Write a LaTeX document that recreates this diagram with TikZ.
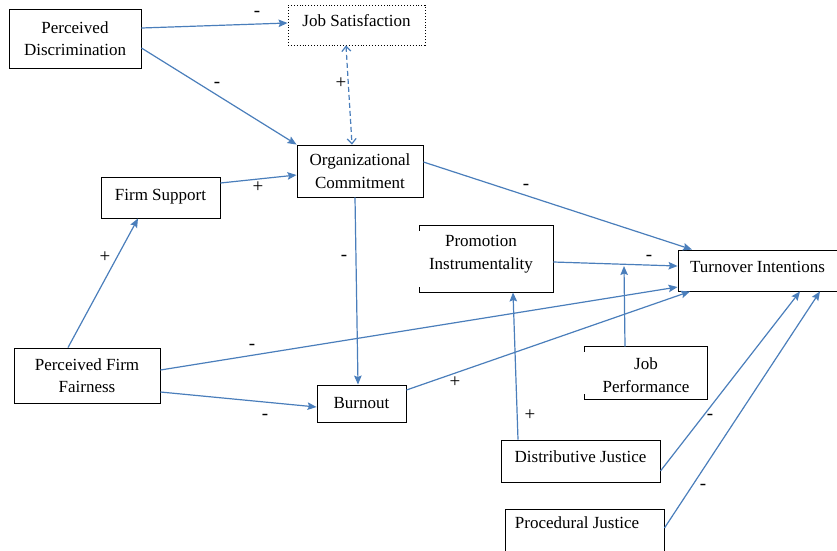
\documentclass[tikz,border=0pt]{standalone}
\usepackage{fontspec}
\setmainfont{Liberation Serif}
\usetikzlibrary{arrows.meta,calc}
\definecolor{arr}{HTML}{4A7EBB}
\begin{document}
\begin{tikzpicture}[x=1pt,y=-1pt,
 box/.style={draw=black, line width=0.9pt, rectangle, inner sep=0pt, align=center, font=\fontsize{17}{22.5}\selectfont},
 open/.style={box, draw=none},
 conn/.style={draw=arr, line width=1.2pt, -{Stealth[length=9pt,width=7.5pt,inset=1.5pt]}},
 dconn/.style={draw=arr, line width=1.2pt, dash pattern=on 5pt off 3pt, {Straight Barb[length=5pt,width=9pt]}-{Straight Barb[length=5pt,width=9pt]}},
 sign/.style={font=\fontsize{19}{19}\selectfont, inner sep=0pt},
 edge3/.style={line width=0.9pt}]
\useasboundingbox (0,0) rectangle (837,550);
% nodes
\node[box, minimum width=132pt, minimum height=59pt] (pd) at (75,38.5) {Perceived\\Discrimination};
\node[box, dotted, minimum width=137pt, minimum height=40pt] (js) at (356.5,25) {\raisebox{8pt}{Job Satisfaction}};
\node[box, minimum width=126pt, minimum height=52pt] (oc) at (360,171) {\raisebox{0pt}{}Organizational\\Commitment};
\node[box, minimum width=119pt, minimum height=41pt] (fs) at (160.5,197.5) {\raisebox{6pt}{Firm Support}};
\node[open, minimum width=133pt, minimum height=66pt] (pi) at (486.5,259) {};
\node[box, draw=none] (pit) at (481,254) {Promotion\\Instrumentality};
\draw[edge3] ([yshift=-5pt]pi.north west) -- (pi.north west) -- (pi.north east) -- (pi.south east) -- (pi.south west) -- ++(0,-5);
\node[box, minimum width=159pt, minimum height=41pt] (ti) at (757.5,270.5) {\raisebox{8pt}{Turnover Intentions}};
\node[box, minimum width=146pt, minimum height=55pt] (pff) at (87,375.5) {Perceived Firm\\Fairness};
\node[box, minimum width=89pt, minimum height=37pt] (bo) at (361.5,403.5) {Burnout};
\node[open, minimum width=122pt, minimum height=52pt] (jp) at (646,373) {};
\node[box, draw=none] (jpt) at (646,375) {Job\\Performance};
\draw[edge3] ([yshift=-5pt]jp.north west) -- (jp.north west) -- (jp.north east) -- (jp.south east) -- (jp.south west) -- ++(0,-5);
\node[box, minimum width=159pt, minimum height=42pt] (dj) at (580.5,461) {\raisebox{8pt}{Distributive Justice}};
\node[box, minimum width=159pt, minimum height=44pt] (pj) at (584.5,531) {};
\node[box, draw=none] (pjt) at (577,523) {Procedural Justice};
\coordinate (jpend) at (624,266);
% connectors
\draw[conn] (pd.east |- 0,28) -- (js.west |- 0,23);
\draw[conn] (pd.east |- 0,48) -- (oc.north west);
\draw[dconn] (js.south -| 346,0) -- (oc.north -| 352,0);
\draw[conn] (fs.east |- 0,183) -- (oc.west |- 0,175);
\draw[conn] (pff.north -| 68,0) -- (fs.south -| 138,0);
\draw[conn] (oc.east |- 0,162) -- (ti.north -| 692,0);
\draw[conn] (oc.south -| 355,0) -- (bo.north -| 358,0);
\draw[conn] (pi.east |- 0,262) -- (ti.west |- 0,266);
\draw[conn] (jp.north -| 625,0) -- (jpend);
\draw[conn] (pff.east |- 0,370) -- (ti.west |- 0,287);
\draw[conn] (pff.east |- 0,392) -- (bo.west |- 0,407);
\draw[conn] (bo.east |- 0,390) -- (ti.south -| 690,0);
\draw[conn] (dj.north -| 518,0) -- (pi.south -| 513,0);
\draw[conn] (dj.east |- 0,471) -- (ti.south -| 800,0);
\draw[conn] (pj.east |- 0,528) -- (ti.south -| 820,0);
% signs
\node[sign] (s1) at (257,14) {-};
\node[sign] (s2) at (217,85) {-};
\node[sign] (s3) at (341,83) {+};
\node[sign] (s4) at (258,187) {+};
\node[sign] (s5) at (105,257) {+};
\node[sign] (s6) at (526,187) {-};
\node[sign] (s7) at (344,258) {-};
\node[sign] (s8) at (649,258) {-};
\node[sign] (s10) at (252,347) {-};
\node[sign] (s11) at (265,417) {-};
\node[sign] (s12) at (455,382) {+};
\node[sign] (s13) at (530,415) {+};
\node[sign] (s14) at (710,417) {-};
\node[sign] (s15) at (703,487) {-};
\end{tikzpicture}
\end{document}
